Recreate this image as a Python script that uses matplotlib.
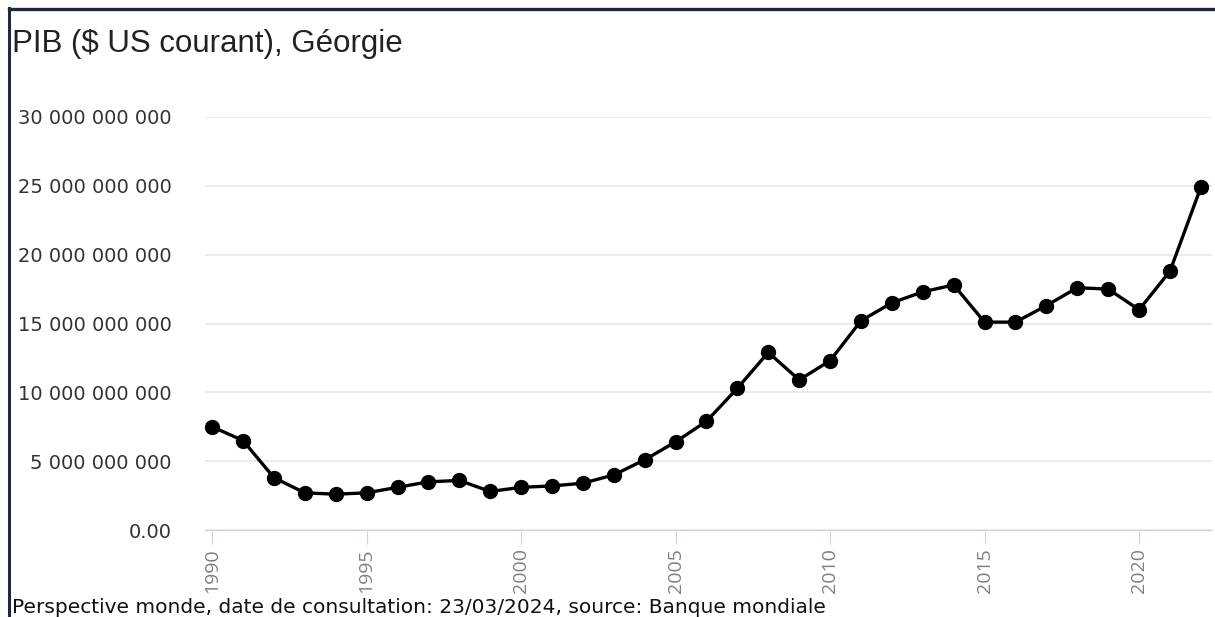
import matplotlib.pyplot as plt
from matplotlib.lines import Line2D

# PIB de la Géorgie, $ US courants
years = list(range(1990, 2023))
gdp_bn = [7.5, 6.5, 3.8, 2.7, 2.6, 2.7, 3.1, 3.5, 3.6, 2.8,
          3.1, 3.2, 3.4, 4.0, 5.1, 6.4, 7.9, 10.3, 12.9, 10.9,
          12.3, 15.2, 16.5, 17.3, 17.8, 15.1, 15.1, 16.3, 17.6, 17.5,
          16.0, 18.8, 24.9]
gdp = [v * 1e9 for v in gdp_bn]

ytick_vals = [0, 5e9, 10e9, 15e9, 20e9, 25e9, 30e9]
ytick_labels = ['0.00', '5 000 000 000', '10 000 000 000', '15 000 000 000',
                '20 000 000 000', '25 000 000 000', '30 000 000 000']
xtick_vals = [1990, 1995, 2000, 2005, 2010, 2015, 2020]

W, H = 1215, 617
fig = plt.figure(figsize=(W / 100, H / 100), dpi=100)
# zone de tracé : x 205-1212 px, y 117-530 px
ax = fig.add_axes([205 / W, (H - 530) / H, (1212 - 205) / W, (530 - 117) / H])

ax.plot(years, gdp, color='black', lw=2.4, marker='o', ms=10, zorder=3,
        clip_on=False)

ax.set_ylim(0, 30e9)
ax.set_xlim(1989.77, 2022.36)
ax.set_yticks(ytick_vals)
ax.set_yticklabels(ytick_labels, fontsize=14, color='#333333',
                   family='DejaVu Sans')
ax.set_xticks(xtick_vals)
ax.set_xticklabels([str(x) for x in xtick_vals], rotation=90, fontsize=14,
                   color='#808080', family='Open Sans')

ax.grid(axis='y', color='#e8e8ee', lw=1.3)
ax.set_axisbelow(True)
for s in ['top', 'right', 'left']:
    ax.spines[s].set_visible(False)
ax.spines['bottom'].set_color('#ccd6eb')
ax.tick_params(axis='y', length=0, pad=24)
ax.tick_params(axis='x', length=10, color='#ccd6eb', pad=3)

fig.text(12 / W, 1 - 52 / H, 'PIB ($ US courant), Géorgie', fontsize=22.5,
         family='Liberation Sans', color='#222222', va='baseline')
fig.text(12 / W, 1 - 613 / H,
         'Perspective monde, date de consultation: 23/03/2024, source: Banque mondiale',
         fontsize=14.5, family='DejaVu Sans', color='#111111', va='baseline')

# cadre
fig.add_artist(Line2D([9 / W, 9 / W], [0, 1 - 8 / H], color='#1b2b3c', lw=2.2,
                      transform=fig.transFigure))
fig.add_artist(Line2D([9 / W, 1], [1 - 9 / H, 1 - 9 / H], color='#1b2b3c',
                      lw=2.4, transform=fig.transFigure))

fig.savefig('out.png', dpi=100)
